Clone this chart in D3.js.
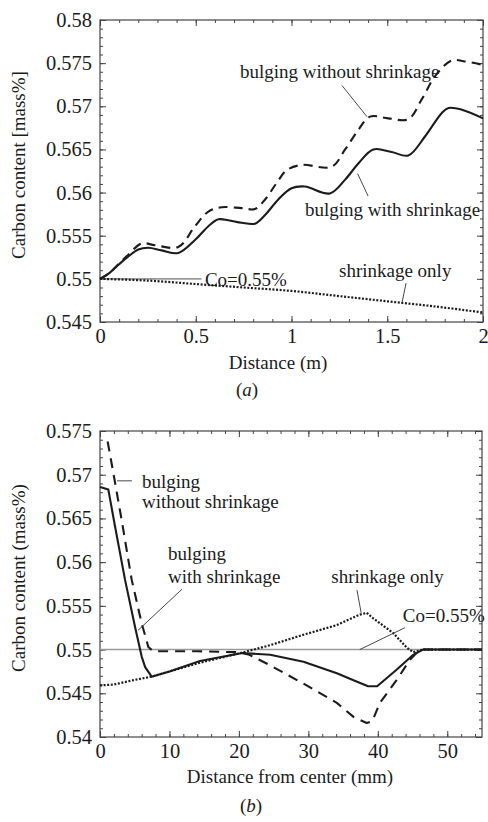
<!DOCTYPE html>
<html>
<head>
<meta charset="utf-8">
<script src="https://cdn.jsdelivr.net/npm/d3@7/dist/d3.min.js"></script>
<style>
  html, body { margin: 0; padding: 0; background: #fff; }
  svg { display: block; }
</style>
</head>
<body>
<svg id="fig" width="488" height="822"></svg>
<script>
// ---- Panel (a): carbon content along casting distance (m) ----
const aWithShrink = [[0,0.55],[0.05,0.5507],[0.1,0.5517],[0.148,0.5526],[0.2,0.5534],[0.252,0.5536],[0.322,0.5533],[0.409,0.553],[0.496,0.5545],[0.566,0.5561],[0.618,0.5569],[0.67,0.5568],[0.74,0.5565],[0.809,0.5564],[0.862,0.5574],[0.931,0.5592],[1.0,0.5605],[1.07,0.5607],[1.2,0.5599],[1.28,0.5615],[1.35,0.5634],[1.427,0.565],[1.523,0.5647],[1.61,0.5643],[1.697,0.5665],[1.784,0.5692],[1.82,0.5698],[1.89,0.5696],[2.0,0.5686]];
const aWithoutShrink = [[0,0.55],[0.05,0.5507],[0.1,0.5518],[0.148,0.5528],[0.217,0.5541],[0.287,0.5539],[0.409,0.5537],[0.496,0.5561],[0.566,0.5578],[0.635,0.5583],[0.74,0.5582],[0.809,0.5581],[0.862,0.5592],[0.922,0.5611],[0.975,0.5626],[1.053,0.5632],[1.21,0.563],[1.28,0.565],[1.35,0.5673],[1.41,0.5688],[1.505,0.5686],[1.61,0.5685],[1.68,0.5708],[1.75,0.5735],[1.836,0.5753],[1.906,0.5752],[2.0,0.5748]];
const aShrinkOnly = [[0,0.55],[0.25,0.5498],[0.5,0.5494],[0.75,0.549],[1.0,0.5486],[1.25,0.548],[1.5,0.5474],[1.75,0.5468],[2.0,0.5461]];
const aXTicks = [0, 0.5, 1, 1.5, 2];
const aYTicks = [0.545, 0.55, 0.555, 0.56, 0.565, 0.57, 0.575, 0.58];

// ---- Panel (b): carbon content across the slab (mm from center) ----
const bWithShrink = [[0,0.5686],[1.2,0.5683],[2.16,0.5641],[3.6,0.558],[5.04,0.5526],[6.0,0.5492],[6.5,0.548],[7.44,0.5469],[10,0.5475],[14.4,0.5487],[20.5,0.5496],[24.5,0.5494],[29.3,0.5486],[34.1,0.5473],[36.5,0.5465],[38.6,0.5458],[39.9,0.5458],[42.7,0.5477],[45.1,0.5494],[46.5,0.55],[55,0.55]];
const bWithoutShrink = [[1.1,0.5738],[1.92,0.5702],[3.12,0.5648],[4.56,0.558],[6.0,0.553],[6.96,0.5503],[7.68,0.5498],[14,0.5498],[20,0.5497],[21.5,0.5494],[24.5,0.5482],[29.3,0.5461],[34.1,0.5439],[36.5,0.5423],[38.4,0.5416],[39.2,0.5418],[40.3,0.5439],[42.7,0.5465],[44.6,0.5488],[45.8,0.5498],[46.5,0.55],[55,0.55]];
const bShrinkOnly = [[0,0.5459],[2,0.546],[4.8,0.5465],[7.4,0.5469],[14.4,0.5485],[20.2,0.5496],[24.5,0.5505],[29.3,0.5517],[34.1,0.5528],[37.4,0.554],[38.4,0.5542],[39.3,0.5536],[42.2,0.5519],[44.2,0.5502],[45.1,0.5497],[46.5,0.55],[55,0.55]];
const bXTicks = [0, 10, 20, 30, 40, 50];
const bYTicks = [0.54, 0.545, 0.55, 0.555, 0.56, 0.565, 0.57, 0.575];

const initialC = 0.55; // Co

const FONT = "'Liberation Serif', 'Times New Roman', Times, serif";
const INK = "#1c1c1c";
const svg = d3.select("#fig");

function panel(cfg) {
  const g = svg.append("g");
  const x = d3.scaleLinear().domain(cfg.xDomain).range([cfg.left, cfg.right]);
  const y = d3.scaleLinear().domain(cfg.yDomain).range([cfg.bottom, cfg.top]);

  const minorX = d3.range(cfg.xDomain[0], cfg.xDomain[1] + 1e-9, cfg.xMinor);
  const minorY = d3.range(cfg.yDomain[0], cfg.yDomain[1] + 1e-9, 0.001);

  const styleAxis = sel => {
    sel.select(".domain").remove();
    sel.selectAll("line").attr("stroke", "#444").attr("stroke-width", 1);
    sel.selectAll("text").attr("font-family", FONT).attr("font-size", 20.5).attr("fill", INK);
  };

  // inward ticks on all four sides
  g.append("g").attr("transform", `translate(0,${cfg.bottom})`)
    .call(d3.axisBottom(x).tickValues(minorX).tickSize(-3).tickFormat("")).call(styleAxis);
  g.append("g").attr("transform", `translate(0,${cfg.top})`)
    .call(d3.axisTop(x).tickValues(minorX).tickSize(-3).tickFormat("")).call(styleAxis);
  g.append("g").attr("transform", `translate(${cfg.left},0)`)
    .call(d3.axisLeft(y).tickValues(minorY).tickSize(-3).tickFormat("")).call(styleAxis);
  g.append("g").attr("transform", `translate(${cfg.right},0)`)
    .call(d3.axisRight(y).tickValues(minorY).tickSize(-3).tickFormat("")).call(styleAxis);

  g.append("g").attr("transform", `translate(0,${cfg.bottom})`)
    .call(d3.axisBottom(x).tickValues(cfg.xTicks).tickSize(-6).tickPadding(6).tickFormat(d3.format("~g"))).call(styleAxis);
  g.append("g").attr("transform", `translate(0,${cfg.top})`)
    .call(d3.axisTop(x).tickValues(cfg.xTicks).tickSize(-6).tickFormat("")).call(styleAxis);
  g.append("g").attr("transform", `translate(${cfg.left},0)`)
    .call(d3.axisLeft(y).tickValues(cfg.yTicks).tickSize(-6).tickPadding(8).tickFormat(d3.format("~g"))).call(styleAxis);
  g.append("g").attr("transform", `translate(${cfg.right},0)`)
    .call(d3.axisRight(y).tickValues(cfg.yTicks).tickSize(-6).tickFormat("")).call(styleAxis);

  // frame
  g.append("rect")
    .attr("x", cfg.left).attr("y", cfg.top)
    .attr("width", cfg.right - cfg.left).attr("height", cfg.bottom - cfg.top)
    .attr("fill", "none").attr("stroke", "#444").attr("stroke-width", 1.2);

  // Co reference line
  g.append("line")
    .attr("x1", x(cfg.xDomain[0])).attr("x2", x(cfg.coEnd))
    .attr("y1", y(initialC)).attr("y2", y(initialC))
    .attr("stroke", "#9a9a9a").attr("stroke-width", 1.6);

  const line = d3.line().x(d => x(d[0])).y(d => y(d[1])).curve(cfg.curve);
  const series = [
    { data: cfg.shrinkOnly, dash: "2,1.6", width: 2.2 },
    { data: cfg.withoutShrink, dash: cfg.dash, width: 2.1 },
    { data: cfg.withShrink, dash: null, width: 2.1 }
  ];
  series.forEach(s => {
    g.append("path").datum(s.data)
      .attr("d", line)
      .attr("fill", "none")
      .attr("stroke", INK)
      .attr("stroke-width", s.width)
      .attr("stroke-dasharray", s.dash)
      .attr("stroke-linejoin", "round");
  });

  // leader lines and annotation text (anchored in data units)
  cfg.leaders.forEach(l => {
    g.append("line")
      .attr("x1", x(l[0])).attr("y1", y(l[1]))
      .attr("x2", x(l[2])).attr("y2", y(l[3]))
      .attr("stroke", "#333").attr("stroke-width", 0.9);
  });
  cfg.notes.forEach(n => {
    g.append("text")
      .attr("x", x(n.x)).attr("y", y(n.y))
      .attr("font-family", FONT).attr("font-size", 19).attr("fill", INK)
      .text(n.t);
  });

  // axis titles
  g.append("text")
    .attr("transform", `translate(${cfg.yLabelX},${cfg.yLabelY}) rotate(-90)`)
    .attr("text-anchor", "middle")
    .attr("font-family", FONT).attr("font-size", 19).attr("fill", INK)
    .text(cfg.yLabel);
  g.append("text")
    .attr("x", cfg.xLabelX).attr("y", cfg.xLabelY)
    .attr("text-anchor", "middle")
    .attr("font-family", FONT).attr("font-size", 19).attr("fill", INK)
    .text(cfg.xLabel);
  g.append("text")
    .attr("x", cfg.capX).attr("y", cfg.capY)
    .attr("text-anchor", "middle")
    .attr("font-family", FONT).attr("font-size", 19).attr("fill", INK)
    .html(`(<tspan font-style="italic">${cfg.cap}</tspan>)`);
}

panel({
  left: 100, right: 483, top: 20, bottom: 322,
  xDomain: [0, 2], yDomain: [0.545, 0.58], xMinor: 0.1,
  xTicks: aXTicks, yTicks: aYTicks,
  withShrink: aWithShrink, withoutShrink: aWithoutShrink, shrinkOnly: aShrinkOnly,
  curve: d3.curveCatmullRom.alpha(0.5), dash: "9,6", coEnd: 0.53,
  leaders: [[1.264, 0.5724, 1.394, 0.5688], [1.345, 0.5622, 1.40, 0.5596], [1.598, 0.5495, 1.577, 0.5472]],
  notes: [
    { x: 0.731, y: 0.5733, t: "bulging without shrinkage" },
    { x: 1.07, y: 0.5573, t: "bulging with shrinkage" },
    { x: 1.248, y: 0.5502, t: "shrinkage only" },
    { x: 0.548, y: 0.5492, t: "Co=0.55%" }
  ],
  yLabel: "Carbon content [mass%]", yLabelX: 25, yLabelY: 165,
  xLabel: "Distance (m)", xLabelX: 278, xLabelY: 369,
  cap: "a", capX: 247, capY: 396
});

panel({
  left: 100, right: 482, top: 431, bottom: 737,
  xDomain: [0, 55], yDomain: [0.54, 0.575], xMinor: 2,
  xTicks: bXTicks, yTicks: bYTicks,
  withShrink: bWithShrink, withoutShrink: bWithoutShrink, shrinkOnly: bShrinkOnly,
  curve: d3.curveLinear, dash: "10,7", coEnd: 55,
  leaders: [[2.45, 0.5693, 4.6, 0.5693], [11.8, 0.5569, 5.47, 0.5522], [37.0, 0.5568, 37.6, 0.5542], [43.9, 0.5525, 37.4, 0.55]],
  notes: [
    { x: 6.05, y: 0.5685, t: "bulging" },
    { x: 6.05, y: 0.5662, t: "without shrinkage" },
    { x: 9.8, y: 0.5602, t: "bulging" },
    { x: 9.8, y: 0.5576, t: "with shrinkage" },
    { x: 33.3, y: 0.5576, t: "shrinkage only" },
    { x: 43.6, y: 0.5532, t: "Co=0.55%" }
  ],
  yLabel: "Carbon content (mass%)", yLabelX: 25, yLabelY: 578,
  xLabel: "Distance from center (mm)", xLabelX: 290, xLabelY: 783,
  cap: "b", capX: 251, capY: 812
});
</script>
</body>
</html>
